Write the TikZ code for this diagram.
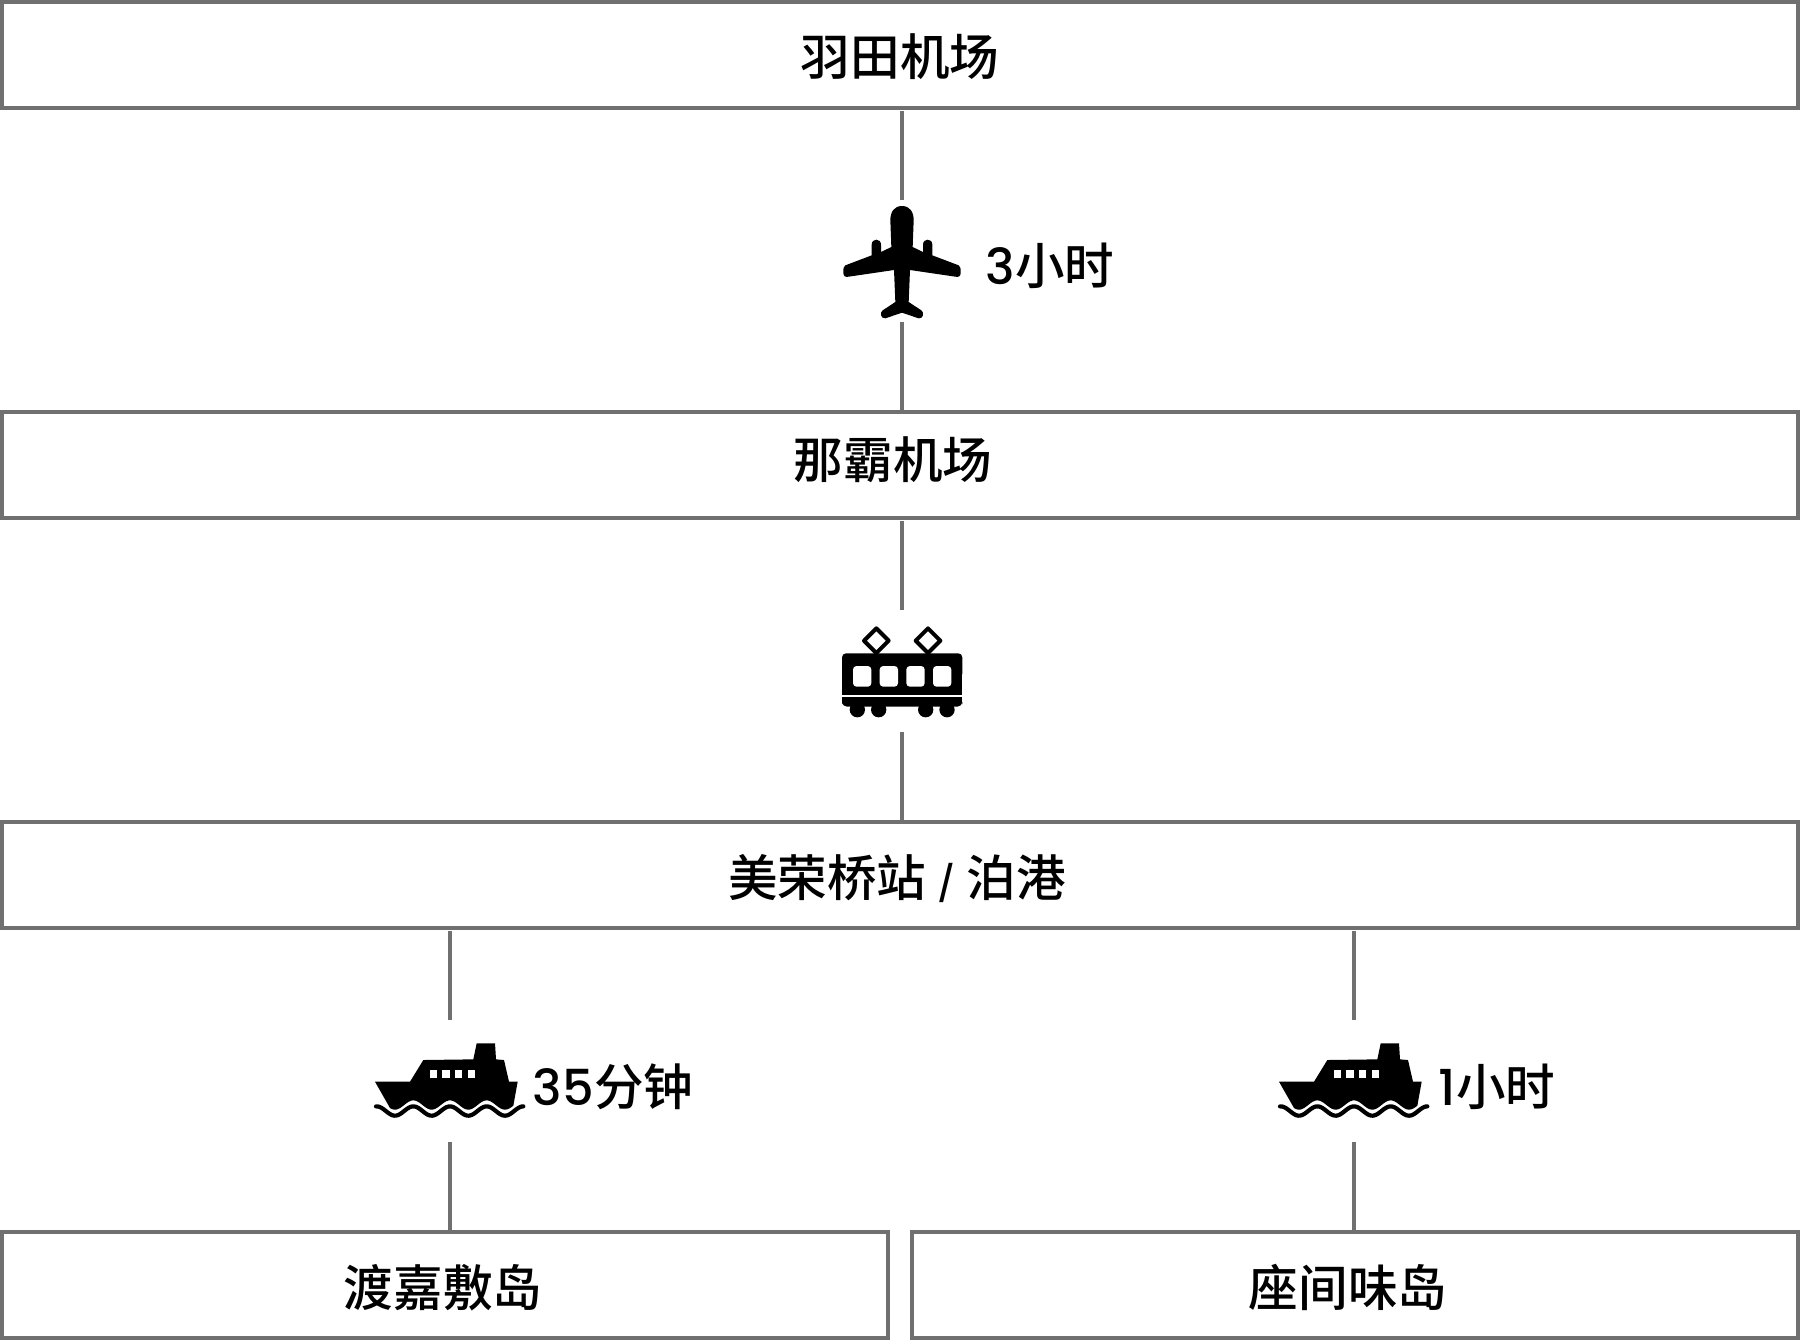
\documentclass[tikz,border=0pt]{standalone}
\usepackage{fontspec}
\setmainfont{Noto Sans CJK SC Medium}
\newfontfamily\numfont{Poppins Medium}
\definecolor{linegray}{HTML}{707070}

\begin{document}
\begin{tikzpicture}[
    x=0.1mm, y=-0.1mm,
    stopbox/.style={rectangle, draw=linegray, line width=0.4mm, inner sep=0pt, minimum width=179.6mm, minimum height=10.6mm, font=\fontsize{14.1pt}{16pt}\selectfont},
    halfbox/.style={stopbox, minimum width=88.6mm},
    textdrop/.style={text height={3mm+#1}, text depth={3mm-#1}},
    iconbox/.style={rectangle, inner sep=0pt, minimum width=12mm, minimum height=12mm},
    timelabel/.style={inner sep=0pt, font=\fontsize{14.1pt}{16pt}\selectfont},
    link/.style={draw=linegray, line width=0.4mm},
    planeicon/.pic={
        \foreach \s in {1,-1}
            \fill[scale=1/3, xscale=\s] (-1,-168) -- (0,-168) .. controls (24,-168) and (35,-150) .. (35,-125) -- (32,-45) -- (63,-30) -- (63,-52) .. controls (63,-72) and (91,-72) .. (91,-52) -- (91,-20) -- (170,10) .. controls (176,13) and (176,20) .. (176,32) .. controls (176,43) and (170,46) .. (160,44) -- (24,24) -- (20,120) -- (58,145) .. controls (66,150) and (66,170) .. (50,169) -- (0,152) -- (-1,152) -- cycle;
    },
    trainicon/.pic={
        \begin{scope}[scale=1/3]
            \fill[rounded corners=0.4mm] (-180,-53) rectangle (181,20);
            \fill (-180,0) rectangle (181,72);
            \fill[rounded corners=0.5mm] (-180,85) rectangle (181,107);
            \fill (-180,79) rectangle (181,95);
            \foreach \w in {-134,-70,71,135}
                \fill (\w,116) circle (23);
            \foreach \w in {-147,-67,13,93}
                \fill[white, rounded corners=1pt] (\w,-15) rectangle ++(55,62);
            \foreach \w in {-77,78}
                \draw[line width=0.4mm, line join=round] (\w,-128) -- ++(37,37) -- ++(-37,37) -- ++(-37,-37) -- cycle;
        \end{scope}
    },
    shipicon/.pic={
        \begin{scope}[scale=1/3]
            \fill (-225,2) -- (-120,2) -- (-80,-63) -- (70,-65) -- (80,-113) -- (135,-113) -- (138,-65) -- (162,-63) -- (177,2) -- (203,2) -- (190,74) -- plot[domain=190:-180, samples=60, smooth] (\x,{72-14*cos(\x/110*360)}) -- cycle;
            \foreach \w in {-61,-23,14,54}
                \fill[white] (\w,-32) rectangle ++(22,22);
            \draw[line width=0.42mm, line cap=round] plot[domain=-222:220, samples=90, smooth] (\x,{90-14*cos(\x/110*360)});
        \end{scope}
    }
]
\useasboundingbox (0,0) rectangle (1800,1340);

\node[stopbox, textdrop=2mm] (haneda) at (900,55) {羽田机场};
\node[stopbox, textdrop=1.3mm] (naha) at (900,465) {\hspace*{-1.4mm}那霸机场};
\node[stopbox, textdrop=2.1mm] (tomari) at (900,875) {\hspace*{-0.6mm}美荣桥站 {\numfont\fontsize{10pt}{12pt}\selectfont /} 泊港};
\node[halfbox, textdrop=2.1mm] (tokashiki) at (445,1285) {\hspace*{-0.4mm}渡嘉敷岛};
\node[halfbox, textdrop=2.1mm] (zamami) at (1355,1285) {\hspace*{-1.4mm}座间味岛};

\node[iconbox] (plane) at (902,261) {};
\node[iconbox] (train) at (902,671) {};
\node[iconbox] (ship1) at (450,1081) {};
\node[iconbox] (ship2) at (1354,1081) {};
\pic at ([yshift=-0.1mm]plane) {planeicon};
\pic at (train) {trainicon};
\pic at (ship1) {shipicon};
\pic at (ship2) {shipicon};

\node[timelabel] (plane time) at (1050,266) {{\numfont 3}小时};
\node[timelabel] (ship1 time) at (613,1087) {{\numfont 35}分钟};
\node[timelabel] (ship2 time) at (1497,1087) {{\numfont 1}小时};

\draw[link, shorten >=0.1mm] (plane.north) -- (plane.north |- haneda.south);
\draw[link] (plane.south) -- (plane.south |- naha.north);
\draw[link, shorten >=0.1mm] (train.north) -- (train.north |- naha.south);
\draw[link] (train.south) -- (train.south |- tomari.north);
\draw[link, shorten >=0.1mm] (ship1.north) -- (ship1.north |- tomari.south);
\draw[link] (ship1.south) -- (ship1.south |- tokashiki.north);
\draw[link, shorten >=0.1mm] (ship2.north) -- (ship2.north |- tomari.south);
\draw[link] (ship2.south) -- (ship2.south |- zamami.north);
\end{tikzpicture}
\end{document}
